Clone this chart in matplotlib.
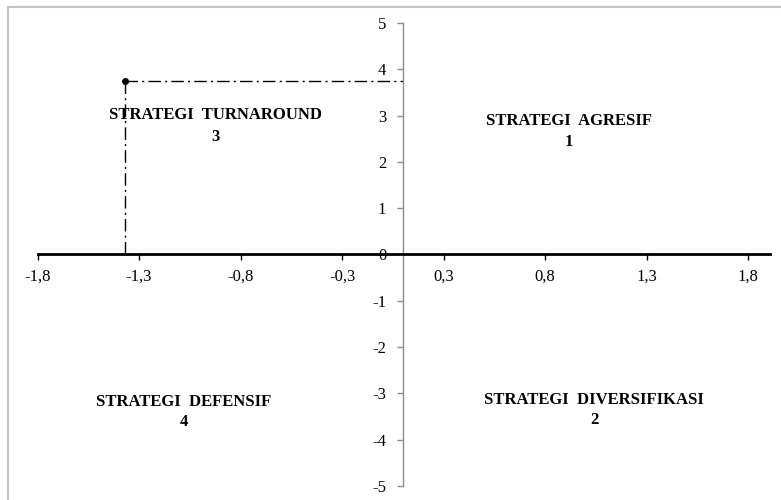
import matplotlib.pyplot as plt
from matplotlib.lines import Line2D

plt.rcParams['axes.unicode_minus'] = False
plt.rcParams['font.family'] = ['Liberation Serif', 'DejaVu Serif']

# ---- data ----
point_x = -1.37
point_y = 3.75

x_tick_pos = [-1.8, -1.3, -0.8, -0.3, 0.2, 0.7, 1.2, 1.7]
x_tick_labels = ['-1,8', '-1,3', '-0,8', '-0,3', '0,3', '0,8', '1,3', '1,8']
y_ticks = [-5, -4, -3, -2, -1, 0, 1, 2, 3, 4, 5]

quad_names = ['STRATEGI  AGRESIF', 'STRATEGI  DIVERSIFIKASI',
              'STRATEGI  TURNAROUND', 'STRATEGI  DEFENSIF']
quad_nums = ['1', '2', '3', '4']
quad_x = [0.818, 0.941, -0.921, -1.079]
quad_y_name = [2.88, -3.14, 3.01, -3.19]
quad_y_num = [2.43, -3.57, 2.54, -3.62]

# ---- figure ----
fig = plt.figure(figsize=(7.81, 5.00), dpi=100)
W, H = 781, 500
ax = fig.add_axes([37.5 / W, 14 / H, (770 - 37.5) / W, 463 / H])
ax.set_xlim(-1.8, 1.808)
ax.set_ylim(-5, 5)

# frame around the picture (only left/top visible)
fig.add_artist(Line2D([8 / W, 8 / W], [0, 1 - 7 / H], color='#c4c4c4', lw=1.5,
                      transform=fig.transFigure))
fig.add_artist(Line2D([8 / W, 1], [1 - 7 / H, 1 - 7 / H], color='#c4c4c4', lw=1.5,
                      transform=fig.transFigure))

for s in ['top', 'right']:
    ax.spines[s].set_visible(False)
ax.spines['left'].set_position(('data', 0))
ax.spines['bottom'].set_position(('data', 0))
ax.spines['left'].set_color('#8c8c8c')
ax.spines['left'].set_linewidth(1.0)
ax.spines['bottom'].set_color('black')
ax.spines['bottom'].set_linewidth(2.0)

ax.set_xticks(x_tick_pos)
ax.set_xticklabels(x_tick_labels)
ax.set_yticks(y_ticks)
ax.set_yticklabels([str(v) for v in y_ticks])
ax.tick_params(axis='x', direction='out', length=4, width=1, color='black',
               labelsize=12, pad=6)
ax.tick_params(axis='y', direction='out', length=4, width=1, color='#8c8c8c',
               labelsize=12, pad=8)
ax.patch.set_alpha(0)

# dash-dot guide lines and the point
dd = (0, (9, 3, 1.5, 3))
ax.plot([point_x, 0], [point_y, point_y], color='black', lw=1.0, linestyle=dd)
ax.plot([point_x, point_x], [point_y, 0], color='black', lw=1.0, linestyle=dd)
ax.plot([point_x], [point_y], 'o', color='black', markersize=4)

for name, num, x, yn, ym in zip(quad_names, quad_nums, quad_x, quad_y_name, quad_y_num):
    ax.text(x, yn, name, ha='center', va='center', fontsize=12, fontweight='bold')
    ax.text(x, ym, num, ha='center', va='center', fontsize=12, fontweight='bold')

fig.savefig('out.png', dpi=100)
